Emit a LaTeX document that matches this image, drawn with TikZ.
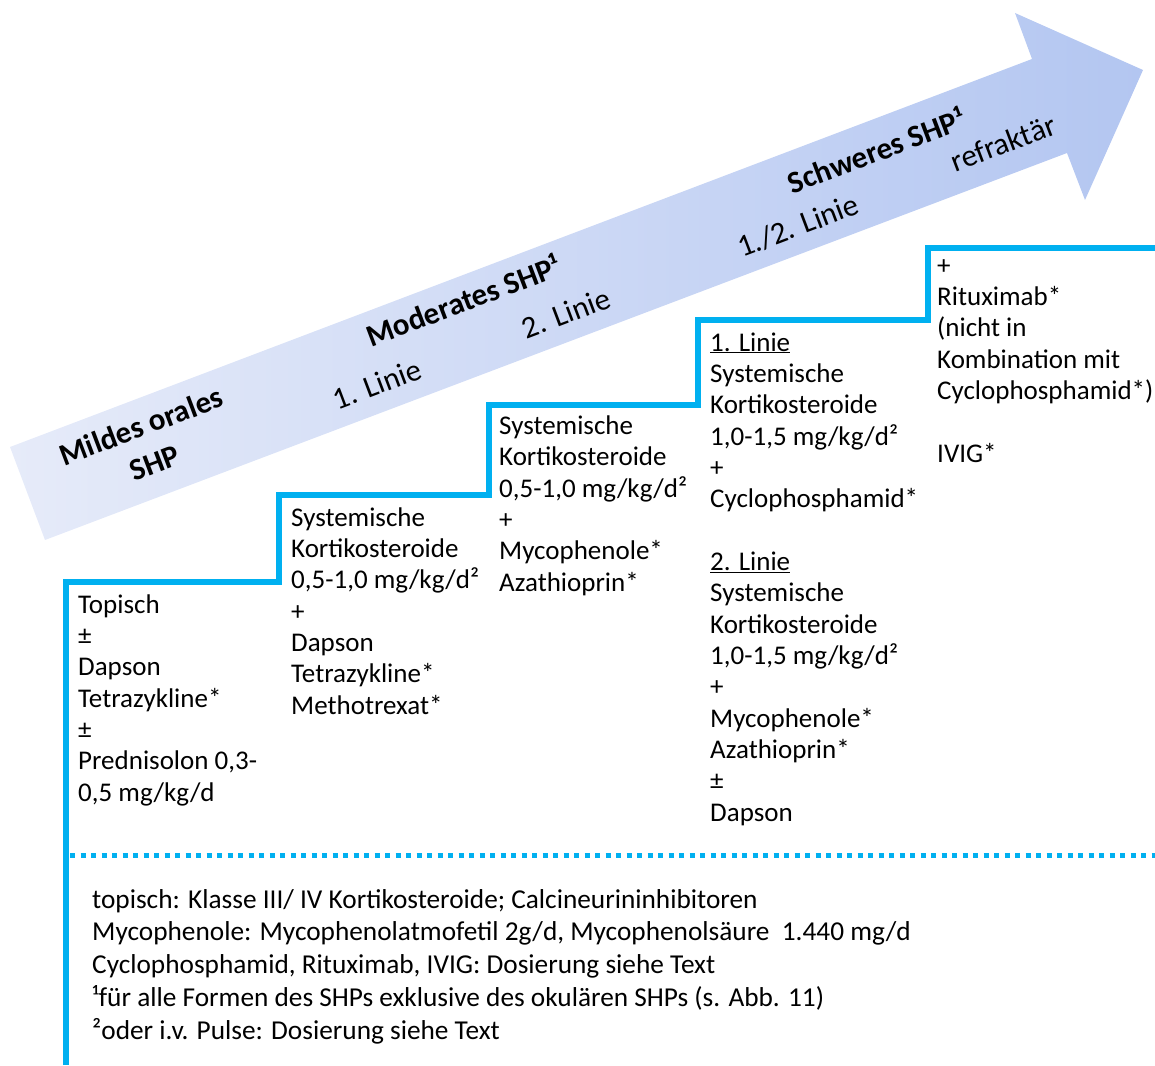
\documentclass[tikz,border=0pt]{standalone}
\usepackage{fontspec}
\setmainfont{Carlito}
\definecolor{stepcyan}{HTML}{00B0F0}
\definecolor{arrowL}{HTML}{E6EBF9}
\definecolor{arrowR}{HTML}{B3C6F1}
\begin{document}
\begin{tikzpicture}[x=1pt,y=-1pt,
  body/.style={anchor=base west, align=left, inner sep=0pt,
    font=\fontsize{27}{31.33}\selectfont},
  foot/.style={anchor=base west, align=left, inner sep=0pt,
    font=\fontsize{27.3}{32.75}\selectfont},
  arrowlab/.style={rotate=20.7, align=center, inner sep=0pt,
    font=\fontsize{31}{39}\selectfont},
  arrowbold/.style={arrowlab, font=\fontsize{31}{39}\selectfont\bfseries},
  stepline/.style={draw=stepcyan, line width=6.5pt},
  dotline/.style={draw=stepcyan, line width=5pt, dash pattern=on 5pt off 5.5pt}]
\useasboundingbox (0,0) rectangle (1155,1065);

% big arrow
\shade[left color=arrowL, right color=arrowR]
  (10,447) -- (1032,59) -- (1015,13) -- (1143,70) -- (1085,200) -- (1067,153) -- (45,540) -- cycle;

% arrow labels
\node[arrowbold] (mild) at (148,444) {Mildes orales\\SHP};
\node[arrowlab] (l1) at (377,384) {1. Linie};
\node[arrowbold] (mod) at (463,300) {Moderates SHP¹};
\node[arrowlab] (l2) at (566,313) {2. Linie};
\node[arrowbold] (schw) at (876,150) {Schweres SHP¹};
\node[arrowlab] (l12) at (798,226) {1./2. Linie};
\node[arrowlab] (refr) at (1003,143) {refraktär};

% steps
\coordinate (s0) at (66,1065);
\coordinate (s1) at (279,582);
\coordinate (s2) at (489,495);
\coordinate (s3) at (698,405);
\coordinate (s4) at (928,320);
\coordinate (s5) at (1155,248);
\draw[stepline] (s0) |- (s1) |- (s2) |- (s3) |- (s4) |- (s5);

% dotted separator
\coordinate (d0) at (70,855);
\coordinate (d1) at (1155,855);
\draw[dotline] (d0) -- (d1);

% column texts (anchored at the baseline of their last line)
\node[body] (c1) at (78,801) {Topisch\\±\\Dapson\\Tetrazykline*\\±\\Prednisolon 0,3-\\0,5 mg/kg/d};
\node[body] (c2) at (291,714) {Systemische\\Kortikosteroide\\0,5-1,0 mg/kg/d²\\+\\Dapson\\Tetrazykline*\\Methotrexat*};
\node[body] (c3) at (499,591) {Systemische\\Kortikosteroide\\0,5-1,0 mg/kg/d²\\+\\Mycophenole*\\Azathioprin*};
\node[body] (c4) at (710,821) {\underline{1. Linie}\\Systemische\\Kortikosteroide\\1,0-1,5 mg/kg/d²\\+\\Cyclophosphamid*\\[31.33pt]\underline{2. Linie}\\Systemische\\Kortikosteroide\\1,0-1,5 mg/kg/d²\\+\\Mycophenole*\\Azathioprin*\\±\\Dapson};
\node[body] (c5) at (937,462) {+\\Rituximab*\\(nicht in\\Kombination mit\\Cyclophosphamid*)\\[31.33pt]IVIG*};

% footer
\node[foot] (f) at (92,1039) {topisch: Klasse III/ IV Kortikosteroide; Calcineurininhibitoren\\Mycophenole: Mycophenolatmofetil 2g/d, Mycophenolsäure~~1.440 mg/d\\Cyclophosphamid, Rituximab, IVIG: Dosierung siehe Text\\¹für alle Formen des SHPs exklusive des okulären SHPs (s. Abb. 11)\\²oder i.v. Pulse: Dosierung siehe Text};
\end{tikzpicture}
\end{document}
